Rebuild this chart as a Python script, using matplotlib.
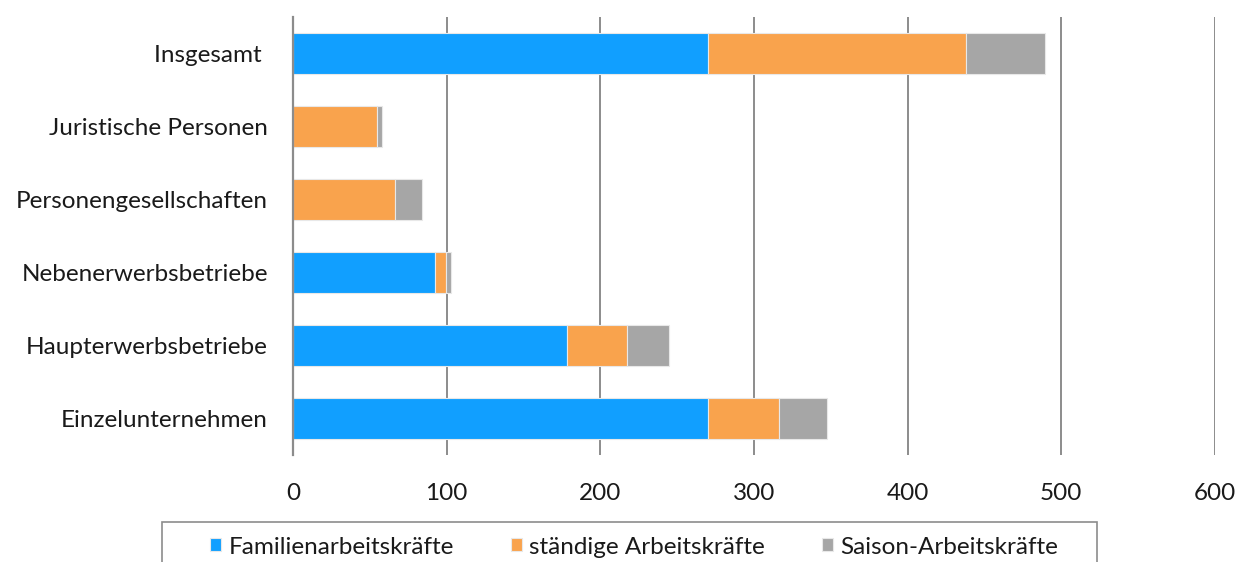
import matplotlib
matplotlib.use("Agg")
import matplotlib.pyplot as plt
from matplotlib.patches import Rectangle
import numpy as np

categories = ["Einzelunternehmen", "Haupterwerbsbetriebe", "Nebenerwerbsbetriebe",
              "Personengesellschaften", "Juristische Personen", "Insgesamt "]
familien = [270.3, 178.5, 92.2, 0, 0, 270.3]
staendige = [45.9, 38.6, 7.4, 66.5, 54.8, 167.4]
saison = [31.4, 27.3, 3.3, 17.5, 2.9, 51.9]
series_names = ["Familienarbeitskräfte", "ständige Arbeitskräfte", "Saison-Arbeitskräfte"]
colors = ["#119FFF", "#F9A34D", "#A6A6A6"]
xticks = [0, 100, 200, 300, 400, 500, 600]

plt.rcParams['font.family'] = ['Lato', 'DejaVu Sans']

W, H = 1243, 562
FS = 17.5
fig = plt.figure(figsize=(W / 100, H / 100), dpi=100)
ax = fig.add_axes([293 / W, 1 - 455 / H, (1215 - 293) / W, (455 - 17) / H])

y = np.arange(len(categories))
left = np.zeros(len(categories))
handles = []
for vals, c, name in zip([familien, staendige, saison], colors, series_names):
    b = ax.barh(y, vals, left=left, height=0.57, color=c, edgecolor="#E8E8E8",
                linewidth=0.8, label=name, zorder=3)
    handles.append(b)
    left = left + np.array(vals)

ax.set_xlim(0, 600)
ax.set_ylim(-0.5, len(categories) - 0.5)
ax.set_xticks(xticks)
ax.set_xticklabels([str(t) for t in xticks])
ax.set_yticks(y)
ax.set_yticklabels(categories)
ax.tick_params(axis='both', length=0, labelsize=FS, colors="#1A1A1A")
ax.tick_params(axis='y', pad=18)
ax.tick_params(axis='x', pad=20)
ax.grid(axis='x', color="#8C8C8C", linewidth=1.4, zorder=0)
for s in ["top", "right", "bottom"]:
    ax.spines[s].set_visible(False)
ax.spines["left"].set_color("#8C8C8C")
ax.spines["left"].set_linewidth(1.6)
ax.spines["left"].set_zorder(4)

# legend box
fig.patches.append(Rectangle((162 / W, -0.1), (1097 - 162) / W, 0.1 + (562 - 522) / H,
                             transform=fig.transFigure, facecolor="white",
                             edgecolor="#8C8C8C", linewidth=1.2))
leg = fig.legend(handles=handles, labels=series_names, loc="center left",
                 bbox_to_anchor=(188 / W, 1 - 547 / H), ncol=3, frameon=False,
                 fontsize=FS, handlelength=0.46, handleheight=0.46,
                 handletextpad=0.3, columnspacing=2.35)
for t in leg.get_texts():
    t.set_color("#1A1A1A")

fig.savefig("out.png", dpi=100)
